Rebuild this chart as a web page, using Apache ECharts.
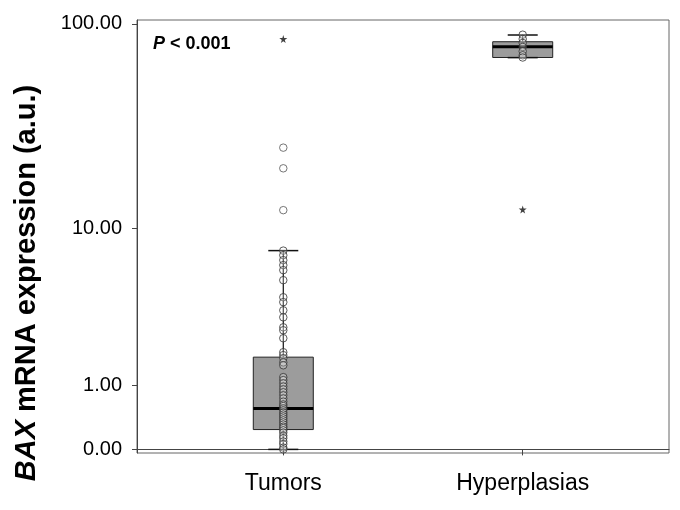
<!DOCTYPE html>
<html><head><meta charset="utf-8">
<script src="https://cdn.jsdelivr.net/npm/echarts@6/dist/echarts.min.js"></script>
<style>html,body{margin:0;padding:0;background:#fff}#c{width:680px;height:510px}</style>
</head><body><div id="c"></div>
<script>
const categories = ['Tumors', 'Hyperplasias'];
const yTickValues = [0, 1, 10, 100];
// [lower whisker, Q1, median, Q3, upper whisker]
const tumorBox = [0.00, 0.24, 0.56, 1.72, 7.64];
const hyperBox = [69.1, 69.2, 77.9, 82.3, 88.6];
const tumorPoints = [7.64, 7.22, 6.79, 6.38, 5.99, 5.27, 4.21, 3.94, 3.52, 3.19, 2.76, 2.64, 2.34,
  1.87, 1.78, 1.69, 1.57, 1.49,
  1.19, 1.12, 1.05, 0.98, 0.92, 0.86, 0.80, 0.74, 0.68, 0.63, 0.60, 0.56, 0.53, 0.49, 0.46,
  0.43, 0.40, 0.37, 0.34, 0.31, 0.28, 0.26, 0.23, 0.20, 0.16, 0.13, 0.09, 0.06, 0.02, 0.00];
const hyperPoints = [88.9, 84.8, 81.2, 77.7, 74.1, 70.9, 69.2];
const tumorOutliers = [25.4, 20.1, 12.4];
const tumorExtremes = [84.8];
const hyperExtremes = [12.5];

const FONT = 'Liberation Sans, Arial, sans-serif';
const tf = v => Math.log10(v + 1);
const boxData = [[1].concat(tumorBox.map(tf)), [2].concat(hyperBox.map(tf))];
const starPath = 'path://M50,0 L61,35 L98,35 L68,57 L79,91 L50,70 L21,91 L32,57 L2,35 L39,35 Z';

const chart = echarts.init(document.getElementById('c'));
chart.setOption({
  animation: false,
  backgroundColor: '#fff',
  grid: { left: 137, right: 11, top: 20, bottom: 57, show: true, borderColor: '#666', borderWidth: 1 },
  xAxis: {
    type: 'value', min: 0.389, max: 2.611,
    splitLine: { show: false },
    axisLine: { show: true, lineStyle: { color: '#444', width: 1 } },
    axisTick: { show: true, length: 6, lineStyle: { color: '#444' }, customValues: [1, 2] },
    axisLabel: {
      customValues: [1, 2], margin: 19,
      formatter: v => categories[Math.round(v) - 1] || '',
      fontSize: 23, color: '#000', fontFamily: FONT
    }
  },
  yAxis: {
    type: 'value', min: -0.017, max: 2.023,
    splitLine: { show: false },
    axisLine: { show: true, lineStyle: { color: '#444', width: 1 } },
    axisTick: { show: true, length: 5, lineStyle: { color: '#444' }, customValues: yTickValues.map(tf) },
    axisLabel: {
      customValues: yTickValues.map(tf), margin: 15,
      formatter: v => {
        let best = yTickValues[0];
        yTickValues.forEach(t => { if (Math.abs(tf(t) - v) < Math.abs(tf(best) - v)) best = t; });
        return best.toFixed(2);
      },
      fontSize: 20, color: '#000', fontFamily: FONT
    }
  },
  graphic: [
    {
      type: 'text', x: 27, y: 283, rotation: Math.PI / 2,
      style: {
        text: '{i|BAX} mRNA expression (a.u.)',
        align: 'center', verticalAlign: 'middle',
        fontSize: 29, fontWeight: 'bold', fontFamily: FONT, fill: '#000',
        rich: { i: { fontStyle: 'italic', fontWeight: 'bold', fontSize: 29, fontFamily: FONT, fill: '#000' } }
      }
    },
    {
      type: 'text', x: 153, y: 44,
      style: {
        text: '{i|P} < 0.001',
        align: 'left', verticalAlign: 'middle',
        fontSize: 18, fontWeight: 'bold', fontFamily: FONT, fill: '#000',
        rich: { i: { fontStyle: 'italic', fontWeight: 'bold', fontSize: 18, fontFamily: FONT, fill: '#000' } }
      }
    }
  ],
  series: [
    {
      type: 'custom',
      data: boxData,
      encode: { x: 0, y: [1, 2, 3, 4, 5] },
      renderItem: function (params, api) {
        const x = api.value(0);
        const c = [1, 2, 3, 4, 5].map(i => api.coord([x, api.value(i)]));
        const cx = c[0][0];
        const hw = 30, cw = 15;
        return {
          type: 'group', children: [
            { type: 'line', shape: { x1: cx, y1: c[0][1], x2: cx, y2: c[4][1] }, style: { stroke: '#111', lineWidth: 1.2 } },
            { type: 'rect', shape: { x: cx - hw, y: c[3][1], width: 2 * hw, height: c[1][1] - c[3][1] }, style: { fill: '#9c9c9c', stroke: '#222', lineWidth: 1 } },
            { type: 'line', shape: { x1: cx - cw, y1: c[4][1], x2: cx + cw, y2: c[4][1] }, style: { stroke: '#111', lineWidth: 1.5 } },
            { type: 'line', shape: { x1: cx - cw, y1: c[0][1], x2: cx + cw, y2: c[0][1] }, style: { stroke: '#111', lineWidth: 1.5 } },
            { type: 'line', shape: { x1: cx - hw, y1: c[2][1], x2: cx + hw, y2: c[2][1] }, style: { stroke: '#000', lineWidth: 3 } }
          ]
        };
      },
      z: 2
    },
    {
      type: 'scatter', symbol: 'circle', symbolSize: 7.5,
      data: tumorPoints.map(v => [1, tf(v)]).concat(hyperPoints.map(v => [2, tf(v)])),
      itemStyle: { color: 'rgba(255,255,255,0.3)', borderColor: '#333', borderWidth: 1 },
      z: 3
    },
    {
      type: 'scatter', symbol: 'circle', symbolSize: 7.5,
      data: tumorOutliers.map(v => [1, tf(v)]),
      itemStyle: { color: '#fff', borderColor: '#555', borderWidth: 1 },
      z: 3
    },
    {
      type: 'scatter', symbol: starPath, symbolSize: 8,
      data: tumorExtremes.map(v => [1, tf(v)]).concat(hyperExtremes.map(v => [2, tf(v)])),
      itemStyle: { color: '#111' },
      z: 3
    }
  ]
});
</script>
</body></html>
